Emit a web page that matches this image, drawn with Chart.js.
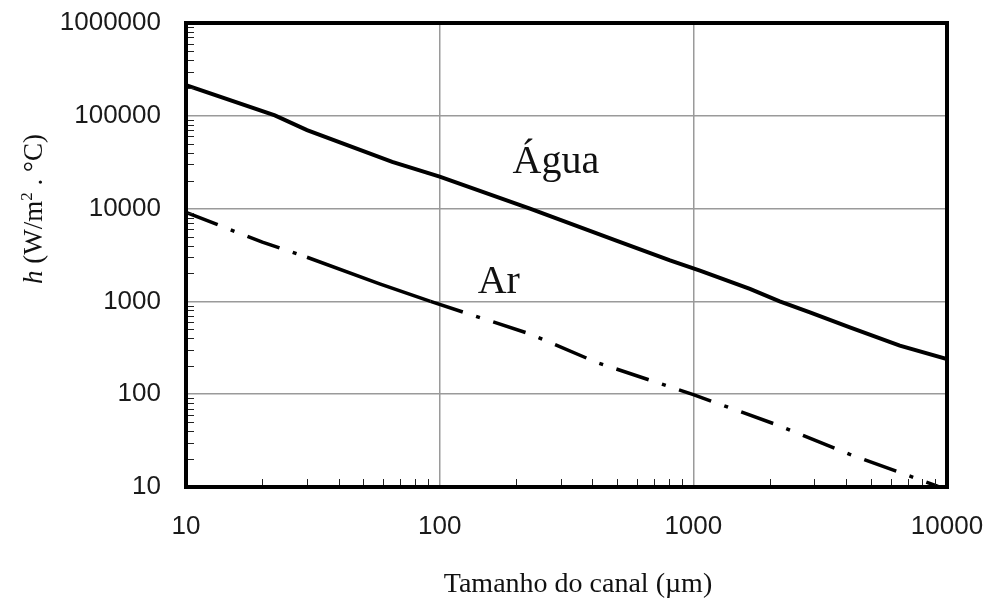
<!DOCTYPE html>
<html>
<head>
<meta charset="utf-8">
<script src="https://cdn.jsdelivr.net/npm/chart.js@4/dist/chart.umd.min.js"></script>
<style>
  html,body{margin:0;padding:0;background:#fff;}
  #wrap{width:994px;height:603px;position:relative;}
</style>
</head>
<body>
<div id="wrap"><canvas id="c" width="994" height="603"></canvas></div>
<script>
// ---- data ----
const aguaX = [10, 22.4, 30, 65, 100, 227, 500, 809, 1062, 1671, 2190, 2882, 4140, 6516, 10000];
const aguaY = [214000, 101000, 70000, 31800, 22100, 9980, 4500, 2760, 2150, 1365, 1000, 762, 525, 333, 239];
const arX = [10, 20, 30, 58, 92, 227, 416, 1000, 2190, 4140, 9100, 10000];
const arY = [9100, 4350, 2990, 1545, 1000, 446, 220, 99, 45.6, 22.5, 10.3, 9.2];
const xTicks = [10, 100, 1000, 10000];
const yTicks = [10, 100, 1000, 10000, 100000, 1000000];
const seriesNames = ['Água', 'Ar'];
const xTitle = 'Tamanho do canal (µm)';
// label anchors in data units
const aguaLabelAt = [287, 24000];
const arLabelAt = [171, 1245];

const toPts = (xs, ys) => xs.map((x, i) => ({x: x, y: ys[i]}));

const decorPlugin = {
  id: 'decor',
  afterDatasetsDraw(chart) {
    const {ctx, chartArea: a, scales: {x, y}} = chart;
    ctx.save();
    // minor ticks
    ctx.strokeStyle = '#222';
    ctx.lineWidth = 1;
    for (let d = 10; d < 1000000; d *= 10) {
      for (let k = 2; k <= 9; k++) {
        const py = Math.round(y.getPixelForValue(k * d)) + 0.5;
        ctx.beginPath(); ctx.moveTo(a.left, py); ctx.lineTo(a.left + 8, py); ctx.stroke();
      }
    }
    for (let d = 10; d < 10000; d *= 10) {
      for (let k = 2; k <= 9; k++) {
        const px = Math.round(x.getPixelForValue(k * d)) + 0.5;
        ctx.beginPath(); ctx.moveTo(px, a.bottom); ctx.lineTo(px, a.bottom - 8); ctx.stroke();
      }
    }
    // frame
    ctx.strokeStyle = '#000';
    ctx.lineWidth = 4;
    ctx.strokeRect(a.left, a.top, a.right - a.left, a.bottom - a.top);
    // series labels
    ctx.fillStyle = '#111';
    ctx.font = '40px "Liberation Serif", "Times New Roman", serif';
    ctx.textAlign = 'center';
    ctx.textBaseline = 'alphabetic';
    ctx.fillText(seriesNames[0], x.getPixelForValue(aguaLabelAt[0]), y.getPixelForValue(aguaLabelAt[1]));
    ctx.fillText(seriesNames[1], x.getPixelForValue(arLabelAt[0]), y.getPixelForValue(arLabelAt[1]));
    ctx.restore();
  },
  afterDraw(chart) {
    const {ctx} = chart;
    ctx.save();
    ctx.fillStyle = '#111';
    // x title
    ctx.font = '28px "Liberation Serif", "Times New Roman", serif';
    ctx.textAlign = 'center';
    ctx.textBaseline = 'alphabetic';
    ctx.fillText(xTitle, 578, 592);
    // y title (mixed styles), rotated
    const parts = [
      {t: 'h', f: 'italic 27px "Liberation Serif", serif', dy: 0},
      {t: ' (W/m', f: '27px "Liberation Serif", serif', dy: 0},
      {t: '2', f: '17px "Liberation Serif", serif', dy: -10},
      {t: ' . °C)', f: '27px "Liberation Serif", serif', dy: 0}
    ];
    let total = 0;
    parts.forEach(p => { ctx.font = p.f; p.w = ctx.measureText(p.t).width; total += p.w; });
    ctx.translate(42, 209);
    ctx.rotate(-Math.PI / 2);
    ctx.textAlign = 'left';
    let cx = -total / 2;
    parts.forEach(p => { ctx.font = p.f; ctx.fillText(p.t, cx, p.dy); cx += p.w; });
    ctx.restore();
  }
};

const zeroPad = s => { s.paddingTop = 0; s.paddingBottom = 0; s.paddingLeft = 0; s.paddingRight = 0; };

new Chart(document.getElementById('c'), {
  type: 'line',
  data: {
    datasets: [
      {
        label: seriesNames[0],
        data: toPts(aguaX, aguaY),
        borderColor: '#000',
        borderWidth: 4,
        pointRadius: 0,
        tension: 0,
        fill: false
      },
      {
        label: seriesNames[1],
        data: toPts(arX, arY),
        borderColor: '#000',
        borderWidth: 3.5,
        pointRadius: 0,
        tension: 0,
        fill: false,
        borderDash: [34, 14, 4, 14],
        segment: {
          borderDash: ctx => {
            const x0 = ctx.p0.parsed.x;
            return (x0 >= 30 && x0 < 92) ? [] : [34, 14, 4, 14];
          }
        }
      }
    ]
  },
  options: {
    responsive: false,
    animation: false,
    devicePixelRatio: 1,
    layout: {padding: {left: 0, top: 23, right: 47, bottom: 0}},
    plugins: {legend: {display: false}, tooltip: {enabled: false}},
    scales: {
      x: {
        type: 'logarithmic',
        min: 10, max: 10000,
        afterBuildTicks: s => { s.ticks = xTicks.map(v => ({value: v})); },
        afterFit: s => { s.height = 116; zeroPad(s); },
        grid: {color: '#9a9a9a', lineWidth: 1.5, drawTicks: false},
        border: {display: false},
        ticks: {
          callback: v => String(v),
          color: '#1a1a1a',
          padding: 24,
          maxRotation: 0,
          font: {family: '"Liberation Sans", Arial, sans-serif', size: 26}
        }
      },
      y: {
        type: 'logarithmic',
        min: 10, max: 1000000,
        afterBuildTicks: s => { s.ticks = yTicks.map(v => ({value: v})); },
        afterFit: s => { s.width = 186; zeroPad(s); },
        grid: {color: '#9a9a9a', lineWidth: 1.5, drawTicks: false},
        border: {display: false},
        ticks: {
          callback: v => String(v),
          color: '#1a1a1a',
          padding: 25,
          font: {family: '"Liberation Sans", Arial, sans-serif', size: 26}
        }
      }
    }
  },
  plugins: [decorPlugin]
});
</script>
</body>
</html>
